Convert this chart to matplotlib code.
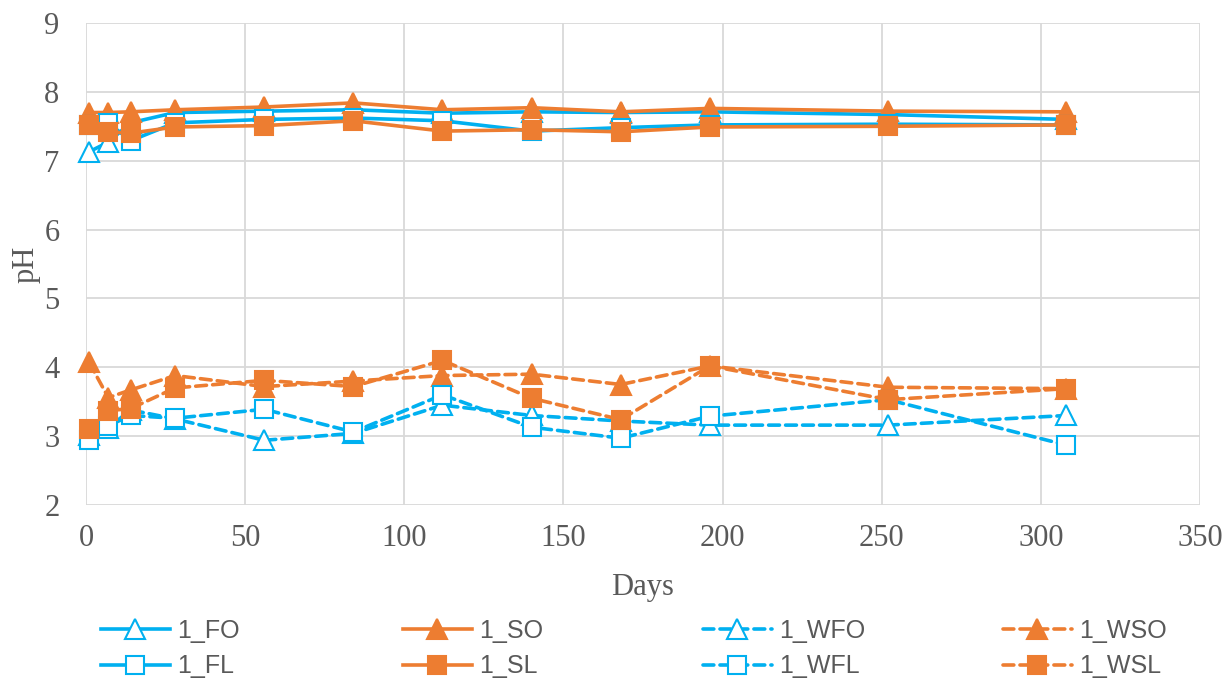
import matplotlib
matplotlib.use("Agg")
import matplotlib.pyplot as plt

days = [1, 7, 14, 28, 56, 84, 112, 140, 168, 196, 252, 308]

fo  = [7.13, 7.27, 7.55, 7.70, 7.72, 7.74, 7.69, 7.71, 7.70, 7.71, 7.67, 7.60]
so  = [7.70, 7.70, 7.71, 7.74, 7.78, 7.84, 7.74, 7.77, 7.71, 7.76, 7.72, 7.71]
wfo = [3.02, 3.12, 3.38, 3.25, 2.94, 3.04, 3.45, 3.30, 3.22, 3.16, 3.16, 3.30]
wso = [4.07, 3.56, 3.67, 3.88, 3.72, 3.80, 3.88, 3.90, 3.75, 4.02, 3.71, 3.69]
fl  = [7.52, 7.55, 7.29, 7.55, 7.60, 7.62, 7.58, 7.43, 7.48, 7.52, 7.53, 7.52]
sl  = [7.52, 7.42, 7.40, 7.49, 7.51, 7.58, 7.43, 7.45, 7.42, 7.49, 7.50, 7.52]
wfl = [2.94, 3.15, 3.30, 3.26, 3.39, 3.06, 3.60, 3.13, 2.97, 3.29, 3.53, 2.87]
wsl = [3.10, 3.37, 3.40, 3.70, 3.81, 3.72, 4.10, 3.55, 3.24, 4.02, 3.53, 3.69]

labels = ["1_FO", "1_SO", "1_WFO", "1_WSO", "1_FL", "1_SL", "1_WFL", "1_WSL"]
series = [fo, so, wfo, wso, fl, sl, wfl, wsl]

BLUE = "#00B0F0"
ORANGE = "#ED7D31"
GRAY = "#595959"

styles = {
    "1_FO":  dict(color=BLUE, ls="-", marker="^", open=True),
    "1_SO":  dict(color=ORANGE, ls="-", marker="^", open=False),
    "1_WFO": dict(color=BLUE, ls="--", marker="^", open=True),
    "1_WSO": dict(color=ORANGE, ls="--", marker="^", open=False),
    "1_FL":  dict(color=BLUE, ls="-", marker="s", open=True),
    "1_SL":  dict(color=ORANGE, ls="-", marker="s", open=False),
    "1_WFL": dict(color=BLUE, ls="--", marker="s", open=True),
    "1_WSL": dict(color=ORANGE, ls="--", marker="s", open=False),
}

fig = plt.figure(figsize=(12.31, 6.81), dpi=100)
ax = fig.add_axes([86/1231, 1-505/681, (1200-86)/1231, (505-23)/681])

handles = {}
for lab, ys in zip(labels, series):
    st = styles[lab]
    ms = 14.5 if st["marker"] == "^" else 13.5
    kw = dict(color=st["color"], lw=2.6, marker=st["marker"], markersize=ms,
              markeredgecolor=st["color"], markeredgewidth=1.5,
              markerfacecolor="white" if st["open"] else st["color"],
              label=lab, clip_on=False)
    if st["ls"] == "--":
        kw["dashes"] = (3.0, 1.7)
        kw["dash_capstyle"] = "round"
    else:
        kw["ls"] = "-"
    ln, = ax.plot(days, ys, **kw)
    handles[lab] = ln

ax.set_xlim(0, 350)
ax.set_ylim(2, 9)
ax.set_xticks(range(0, 351, 50))
ax.set_yticks(range(2, 10))
ax.grid(True, color="#D9D9D9", lw=1.3)
ax.set_axisbelow(True)
for s in ax.spines.values():
    s.set_visible(False)
ax.tick_params(length=0, labelsize=22, labelcolor=GRAY)
ax.tick_params(axis="y", pad=19)
ax.tick_params(axis="x", pad=14)
for t in ax.get_xticklabels() + ax.get_yticklabels():
    t.set_fontfamily("Liberation Serif")

ax.set_xlabel("Days", fontsize=22, color=GRAY, family="Liberation Serif", labelpad=14)
ax.set_ylabel("pH", fontsize=22, color=GRAY, family="Liberation Serif", labelpad=3)

# legend: four columns of equal width
cols = [["1_FO", "1_FL"], ["1_SO", "1_SL"], ["1_WFO", "1_WFL"], ["1_WSO", "1_WSL"]]
xs = [102, 404, 704, 1004]
for col, x in zip(cols, xs):
    fig.legend([handles[c] for c in col], col, loc="upper left",
               bbox_to_anchor=(x/1231 - 0.001, 1-619/681), frameon=False,
               prop=dict(family="Liberation Sans", size=18),
               handlelength=2.75, handletextpad=0.3, labelspacing=0.45,
               borderpad=0, borderaxespad=0, labelcolor=GRAY)

fig.savefig("out.png", dpi=100)
